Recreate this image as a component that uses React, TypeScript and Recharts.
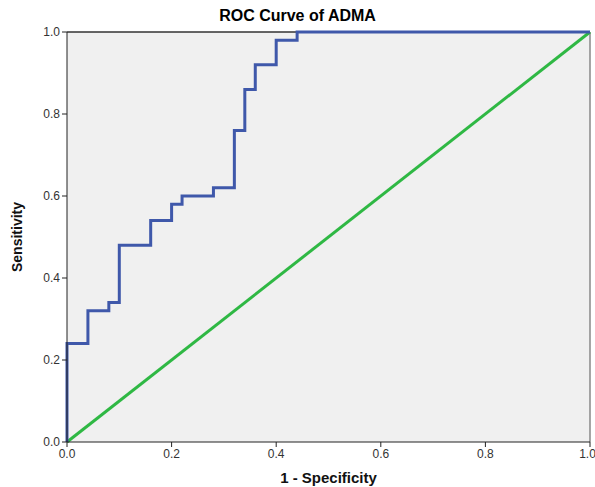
import { LineChart, Line, XAxis, YAxis, CartesianGrid, ReferenceLine } from 'recharts';

const rocX = [0, 0, 0.04, 0.04, 0.08, 0.08, 0.1, 0.1, 0.16, 0.16, 0.2, 0.2, 0.22, 0.22, 0.28, 0.28, 0.32, 0.32, 0.34, 0.34, 0.36, 0.36, 0.4, 0.4, 0.44, 0.44, 1];
const rocY = [0, 0.24, 0.24, 0.32, 0.32, 0.34, 0.34, 0.48, 0.48, 0.54, 0.54, 0.58, 0.58, 0.6, 0.6, 0.62, 0.62, 0.76, 0.76, 0.86, 0.86, 0.92, 0.92, 0.98, 0.98, 1, 1];
const refX = [0, 1];
const refY = [0, 1];
const ticks = [0, 0.2, 0.4, 0.6, 0.8, 1];

const rocData = rocX.map((x, i) => ({ x, y: rocY[i] }));
const refData = refX.map((x, i) => ({ x, y: refY[i] }));

const font = '"Liberation Sans", Arial, sans-serif';

const App = () => {
    return (
        <div style={{ position: 'absolute', left: 0, top: 0, width: 595, height: 487, background: '#fff', fontFamily: font }}>
            <div style={{ position: 'absolute', top: 7, left: 0, width: 595, textAlign: 'center', fontWeight: 'bold', fontSize: 16 }}>
                ROC Curve of ADMA
            </div>
            <LineChart width={595} height={487} margin={{ top: 32, right: 5, left: 37, bottom: 0 }}>
                <CartesianGrid fill="#f0f0f0" horizontal={false} vertical={false} />
                <XAxis
                    type="number"
                    dataKey="x"
                    domain={[0, 1]}
                    ticks={ticks}
                    tickFormatter={(v: number) => v.toFixed(1)}
                    stroke="#222"
                    tickSize={5}
                    tick={{ fill: '#333', fontSize: 12, fontFamily: font }}
                    height={45}
                    label={{ value: '1 - Specificity', position: 'insideBottom', offset: 4, fill: '#111', fontWeight: 'bold', fontSize: 15, fontFamily: font }}
                />
                <YAxis
                    type="number"
                    dataKey="y"
                    domain={[0, 1]}
                    ticks={ticks}
                    tickFormatter={(v: number) => v.toFixed(1)}
                    stroke="#222"
                    tickSize={5}
                    width={30}
                    tick={{ fill: '#333', fontSize: 12, fontFamily: font }}
                    label={{ value: 'Sensitivity', angle: -90, position: 'insideLeft', offset: -20, fill: '#111', fontWeight: 'bold', fontSize: 14, fontFamily: font, style: { textAnchor: 'middle' } }}
                />
                <ReferenceLine x={1} stroke="#888" strokeWidth={1.5} />
                <ReferenceLine y={1} stroke="#333" strokeWidth={1.5} />
                <Line data={refData} dataKey="y" type="linear" stroke="#2fb844" strokeWidth={3} dot={false} isAnimationActive={false} />
                <Line data={rocData} dataKey="y" type="linear" stroke="#3f58aa" strokeWidth={3} dot={false} isAnimationActive={false} />
            </LineChart>
        </div>
    );
};

export default App;
